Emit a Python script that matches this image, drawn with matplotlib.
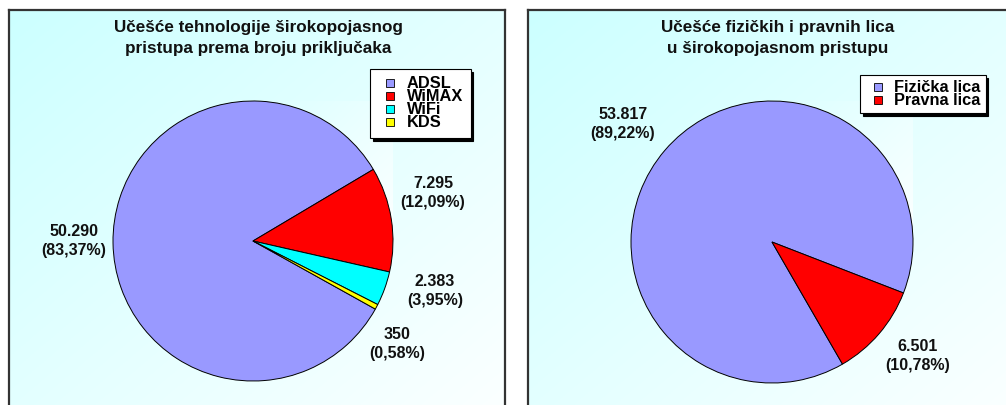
import numpy as np
import matplotlib
matplotlib.use("Agg")
import matplotlib.pyplot as plt
from matplotlib.lines import Line2D

plt.rcParams['font.family'] = ['Liberation Sans', 'DejaVu Sans']
plt.rcParams['font.weight'] = 'bold'

# ---- data ----
tech_labels = ["ADSL", "WiMAX", "WiFi", "KDS"]
tech_values = [50290, 7295, 2383, 350]
tech_colors = ["#9999FF", "#FF0000", "#00FFFF", "#FFFF00"]
tech_title = "Učešće tehnologije širokopojasnog\npristupa prema broju priključaka"

user_labels = ["Fizička lica", "Pravna lica"]
user_values = [53817, 6501]
user_colors = ["#9999FF", "#FF0000"]
user_title = "Učešće fizičkih i pravnih lica\nu širokopojasnom pristupu"

# ---- layout (pixels) ----
W, H = 1006, 405
fig = plt.figure(figsize=(W / 100, H / 100), dpi=100)
fig.patch.set_facecolor("white")


def fx(px):
    return px / W


def fy(py):
    return 1 - py / H


def gradient(ax, c0=(0.80, 1.0, 1.0), c1=(0.99, 1.0, 1.0)):
    n = 200
    xx, yy = np.meshgrid(np.linspace(0, 1, n), np.linspace(0, 1, n))
    t = (xx + yy) / 2.0
    img = np.zeros((n, n, 3))
    for k in range(3):
        img[..., k] = c0[k] + (c1[k] - c0[k]) * t
    ax.imshow(img, extent=[0, 1, 0, 1], aspect='auto', origin='upper', zorder=0)


def panel(x0, x1, ytop, ybot):
    ax = fig.add_axes([fx(x0), fy(ybot), fx(x1 - x0), (ybot - ytop) / H])
    gradient(ax)
    ax.set_xlim(0, 1)
    ax.set_ylim(0, 1)
    ax.set_xticks([])
    ax.set_yticks([])
    for s in ax.spines.values():
        s.set_color("#333333")
        s.set_linewidth(1.6)
    return ax


def fmt_num(v):
    return f"{v:,}".replace(",", ".")


def fmt_pct(v, tot):
    return f"({100 * v / tot:.2f}%)".replace(".", ",")


def pie_panel(cx, cy, r, values, colors, startangle, label_pos):
    ax = fig.add_axes([fx(cx - r), fy(cy + r), 2 * r / W, 2 * r / H])
    gradient(ax, c0=(0.86, 1.0, 1.0), c1=(0.99, 1.0, 1.0))
    wedges, _ = ax.pie(values, colors=colors, startangle=startangle,
                       counterclock=False, radius=1.0,
                       wedgeprops=dict(edgecolor="black", linewidth=0.7))
    for w in wedges:
        w.set_zorder(2)
    ax.set_xlim(-1, 1)
    ax.set_ylim(-1, 1)
    ax.set_aspect('auto')
    ax.axis('off')
    tot = sum(values)
    for v, (px, py) in zip(values, label_pos):
        fig.text(fx(px), fy(py), fmt_num(v) + "\n" + fmt_pct(v, tot),
                 ha='center', va='center', fontsize=11.5, fontweight='bold',
                 linespacing=1.3, color="#111111")
    return ax


# panels
p1 = panel(9, 505, 10, 430)
p1.spines['bottom'].set_visible(False)
p2 = panel(528, 1030, 10, 430)
p2.spines['bottom'].set_visible(False)
p2.spines['right'].set_visible(False)

# titles
fig.text(fx(258), fy(38), tech_title, ha='center', va='center',
         fontsize=12.3, fontweight='bold', linespacing=1.5, color="#111111")
fig.text(fx(778), fy(38), user_title, ha='center', va='center',
         fontsize=12.3, fontweight='bold', linespacing=1.5, color="#111111")

# pies
pie_panel(253, 241, 140, tech_values, tech_colors, 330.9,
          [(74, 241), (433, 193), (435, 291), (397, 344)])
pie_panel(772, 242, 141, user_values, user_colors, 300.0,
          [(623, 124), (918, 356)])

shadow = dict(facecolor='black', edgecolor='black', alpha=1.0)


def handles(colors):
    return [Line2D([], [], marker='s', linestyle='none', markersize=6,
                   markerfacecolor=c, markeredgecolor='black',
                   markeredgewidth=0.6) for c in colors]


leg1 = fig.legend(handles(tech_colors), tech_labels, loc='upper left',
                  bbox_to_anchor=(fx(370), fy(69)), frameon=True,
                  fancybox=False, shadow=shadow, edgecolor='black',
                  framealpha=1, prop=dict(weight='bold', size=11.8),
                  handlelength=1.6, handleheight=0.55, handletextpad=0.2,
                  labelspacing=-0.12, borderpad=0.45, borderaxespad=0)
leg1.get_frame().set_linewidth(0.8)

leg2 = fig.legend(handles(user_colors), user_labels, loc='upper left',
                  bbox_to_anchor=(fx(860), fy(75)), frameon=True,
                  fancybox=False, shadow=shadow, edgecolor='black',
                  framealpha=1, prop=dict(weight='bold', size=11.8),
                  handlelength=1.6, handleheight=0.55, handletextpad=0.2,
                  labelspacing=-0.12, borderpad=0.3, borderaxespad=0)
leg2.get_frame().set_linewidth(0.8)

fig.savefig("out.png", dpi=100)
